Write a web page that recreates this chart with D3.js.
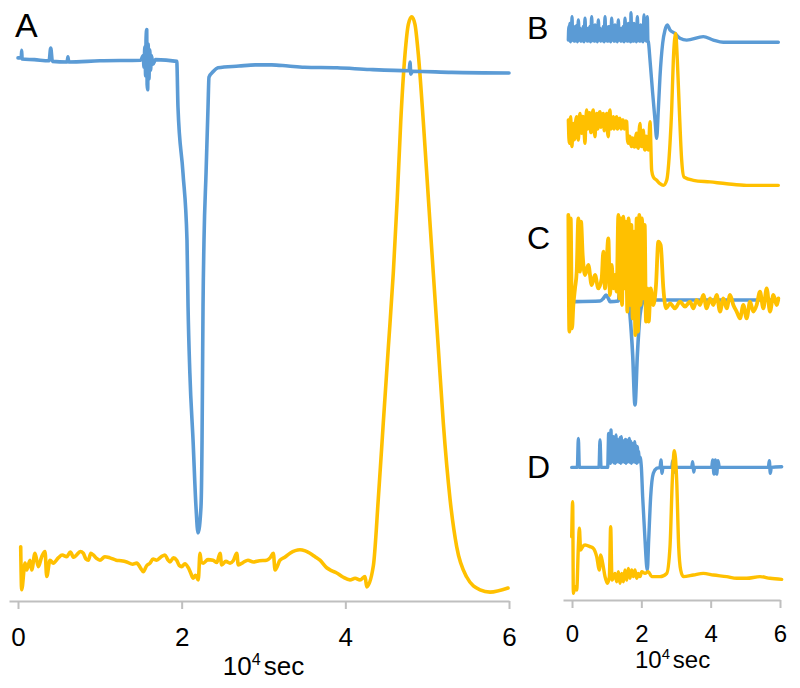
<!DOCTYPE html>
<html><head><meta charset="utf-8">
<script src="https://cdn.jsdelivr.net/npm/d3@7"></script>
<style>body{margin:0;background:#fff}svg{display:block}</style>
</head><body>
<svg id="c" width="800" height="688"></svg>
<script>
// ---- data (x in 10^4 sec, y in normalized signal units 0-100) ----
const tickValues = [0, 2, 4, 6];
const panelLabels = ["A", "B", "C", "D"];
const axisTitle = ["10", "4", "sec"];

const aBlue = [[0.00,92.6],[0.04,92.6],[0.045,93.9],[0.05,92.4],[0.20,92.3],[0.38,92.1],[0.40,94.3],[0.42,92.0],[0.60,91.9],[0.61,92.8],[0.62,91.9],[1.00,92.1],[1.50,92.2],[1.53,93.0],[1.54,91.0],[1.55,94.5],[1.56,89.5],[1.565,96.0],[1.573,97.5],[1.578,88.0],[1.585,87.1],[1.59,95.0],[1.60,89.0],[1.61,94.0],[1.62,90.5],[1.63,93.0],[1.65,91.5],[1.68,92.3],[1.94,92.0],[1.955,84.1],[2.016,72.8],[2.065,61.2],[2.078,49.7],[2.10,38.3],[2.139,26.7],[2.175,15.2],[2.20,10.7],[2.236,15.2],[2.249,26.7],[2.255,38.3],[2.261,49.7],[2.273,61.2],[2.298,72.8],[2.322,84.1],[2.334,89.3],[2.383,90.2],[2.444,90.9],[2.70,91.2],[2.90,91.4],[3.10,91.4],[3.30,91.2],[3.50,91.0],[3.90,90.9],[4.30,90.6],[4.78,90.4],[4.79,91.9],[4.80,89.8],[4.82,90.3],[5.30,90.1],[6.00,90.0]];

const aYellow = [[0.033,8.3],[0.045,0.9],[0.086,5.5],[0.106,4.3],[0.147,6.0],[0.167,4.3],[0.208,7.2],[0.248,4.9],[0.290,6.6],[0.330,7.5],[0.351,3.2],[0.391,6.0],[0.431,5.5],[0.492,6.4],[0.54,6.9],[0.595,6.6],[0.64,7.4],[0.68,6.5],[0.717,6.9],[0.76,7.5],[0.798,7.2],[0.83,6.2],[0.859,6.0],[0.89,7.2],[0.920,6.9],[0.96,6.3],[1.002,6.0],[1.06,6.6],[1.124,6.4],[1.20,6.0],[1.26,5.9],[1.328,5.7],[1.40,5.3],[1.451,5.5],[1.50,4.6],[1.531,4.0],[1.57,5.0],[1.613,5.5],[1.65,6.2],[1.695,6.0],[1.75,6.6],[1.796,6.9],[1.83,6.1],[1.857,5.7],[1.90,6.4],[1.939,6.0],[1.97,5.1],[2.000,4.9],[2.04,5.4],[2.081,4.7],[2.11,3.8],[2.142,2.9],[2.17,3.4],[2.203,2.6],[2.224,7.2],[2.24,5.6],[2.264,5.5],[2.32,6.1],[2.383,6.0],[2.43,5.6],[2.469,7.2],[2.489,5.2],[2.54,5.8],[2.591,5.5],[2.63,5.9],[2.673,7.2],[2.692,5.2],[2.75,5.6],[2.81,6.0],[2.876,5.7],[2.95,5.9],[3.039,6.0],[3.08,6.4],[3.120,7.2],[3.141,4.3],[3.202,6.0],[3.26,6.5],[3.324,7.2],[3.446,7.8],[3.51,7.6],[3.568,7.2],[3.63,6.6],[3.690,6.0],[3.772,4.7],[3.83,4.2],[3.895,3.8],[3.97,3.1],[4.057,2.6],[4.12,2.9],[4.179,2.6],[4.241,3.2],[4.261,1.4],[4.342,5.0],[4.403,16.6],[4.464,29.7],[4.525,42.6],[4.586,55.5],[4.635,68.5],[4.677,81.6],[4.729,93.2],[4.770,98.4],[4.811,99.7],[4.851,98.4],[4.892,93.2],[4.953,81.6],[5.014,68.5],[5.075,55.5],[5.136,42.6],[5.197,29.7],[5.279,16.6],[5.361,8.3],[5.483,3.1],[5.646,0.9],[5.768,0.5],[5.988,1.2]];

const bBlue = [[-0.106,84.4],[-0.09,92.0],[-0.077,86.0],[-0.06,93.7],[-0.045,83.5],[-0.03,91.0],[-0.015,84.0],[0.0,97.4],[0.02,84.4],[0.039,90.5],[0.06,83.8],[0.087,91.9],[0.11,84.0],[0.135,92.5],[0.16,83.5],[0.183,95.6],[0.21,84.4],[0.231,91.0],[0.255,83.8],[0.279,90.0],[0.30,84.0],[0.327,92.0],[0.35,83.5],[0.375,96.5],[0.40,84.4],[0.423,91.0],[0.445,83.8],[0.471,90.9],[0.495,84.0],[0.519,92.0],[0.54,83.5],[0.567,97.4],[0.59,84.1],[0.615,91.5],[0.64,83.8],[0.664,92.8],[0.69,84.0],[0.712,91.0],[0.735,83.5],[0.760,95.6],[0.785,84.4],[0.808,91.0],[0.83,83.8],[0.856,90.0],[0.88,84.0],[0.904,92.0],[0.93,83.5],[0.952,97.4],[0.975,84.1],[1.000,91.0],[1.025,83.8],[1.048,91.9],[1.07,84.0],[1.096,92.0],[1.12,83.5],[1.144,96.5],[1.17,84.4],[1.192,91.0],[1.215,83.8],[1.240,92.8],[1.265,84.0],[1.288,91.0],[1.31,83.5],[1.337,95.6],[1.36,84.4],[1.385,91.0],[1.41,83.8],[1.433,90.9],[1.455,84.0],[1.481,92.0],[1.505,83.5],[1.529,96.5],[1.555,84.1],[1.577,91.0],[1.60,83.8],[1.625,93.7],[1.65,84.0],[1.673,91.0],[1.690,83.5],[1.702,99.6],[1.72,84.4],[1.740,91.0],[1.765,83.8],[1.788,93.7],[1.81,84.0],[1.837,91.0],[1.86,83.5],[1.885,97.4],[1.91,84.1],[1.933,91.0],[1.955,83.8],[1.981,92.8],[2.005,84.0],[2.029,91.0],[2.05,83.5],[2.077,98.3],[2.10,84.4],[2.125,91.0],[2.15,83.8],[2.173,97.4],[2.19,84.0],[2.202,83.5],[2.250,73.3],[2.327,54.8],[2.394,40.0],[2.442,29.8],[2.490,45.6],[2.538,64.1],[2.615,82.6],[2.683,90.0],[2.750,92.8],[2.827,90.0],[2.971,88.1],[3.115,85.4],[3.308,84.4],[3.788,86.3],[4.077,84.4],[4.365,83.2],[5.038,83.2],[5.952,83.2]];

const bYellow = [[-0.106,40.0],[-0.09,30.0],[-0.077,27.0],[-0.06,39.0],[-0.038,41.9],[-0.02,30.0],[0.0,25.2],[0.02,36.0],[0.039,38.1],[0.06,29.0],[0.087,30.7],[0.11,40.0],[0.135,41.9],[0.16,33.0],[0.183,28.9],[0.21,40.0],[0.231,43.7],[0.255,34.0],[0.279,32.6],[0.30,42.0],[0.327,41.9],[0.35,33.0],[0.375,27.0],[0.40,40.0],[0.423,45.6],[0.445,35.0],[0.471,36.3],[0.495,44.0],[0.519,43.7],[0.54,33.0],[0.567,34.4],[0.59,44.0],[0.615,45.6],[0.64,34.0],[0.664,30.7],[0.69,42.0],[0.712,43.7],[0.735,35.0],[0.760,36.3],[0.785,44.0],[0.808,44.6],[0.83,36.0],[0.856,38.1],[0.88,43.0],[0.904,43.7],[0.93,34.0],[0.952,36.3],[0.975,42.0],[1.000,43.7],[1.025,33.0],[1.048,30.7],[1.07,43.0],[1.096,45.6],[1.12,35.0],[1.144,36.3],[1.17,41.0],[1.192,41.9],[1.215,35.0],[1.240,37.2],[1.265,41.0],[1.288,41.9],[1.31,35.0],[1.337,36.3],[1.36,40.5],[1.385,41.0],[1.41,35.0],[1.433,35.4],[1.455,40.0],[1.481,40.0],[1.505,35.0],[1.529,36.3],[1.555,39.5],[1.577,39.1],[1.60,29.0],[1.625,27.0],[1.65,31.0],[1.673,30.7],[1.70,26.0],[1.721,25.2],[1.745,30.0],[1.769,28.9],[1.79,25.0],[1.817,25.2],[1.84,31.0],[1.865,32.6],[1.89,25.0],[1.913,24.3],[1.94,35.0],[1.962,38.1],[1.985,26.0],[2.010,25.2],[2.035,33.0],[2.058,34.4],[2.08,25.0],[2.106,23.3],[2.13,31.0],[2.154,30.7],[2.18,24.0],[2.202,23.3],[2.250,39.1],[2.298,12.0],[2.346,8.3],[2.442,6.5],[2.538,4.6],[2.635,3.7],[2.731,6.5],[2.827,27.0],[2.875,45.6],[2.923,73.3],[2.990,88.1],[3.038,73.3],[3.096,45.6],[3.163,17.8],[3.231,8.3],[3.500,6.5],[3.981,5.6],[4.462,4.6],[5.038,3.7],[5.952,3.7]];

const cBlue = [[0.087,53.2],[0.808,53.5],[0.904,54.8],[0.981,56.5],[1.048,54.8],[1.096,53.2],[1.337,53.5],[1.385,61.5],[1.433,63.2],[1.529,64.0],[1.577,59.8],[1.673,46.5],[1.750,26.5],[1.817,1.5],[1.885,26.5],[1.962,46.5],[2.058,53.2],[2.154,54.0],[5.952,54.0]];

const cYellow = [[-0.106,96.5],[-0.077,38.2],[-0.038,94.8],[0.0,39.8],[0.039,51.5],[0.087,59.8],[0.135,68.2],[0.183,94.8],[0.231,68.2],[0.260,93.2],[0.308,76.5],[0.375,66.5],[0.471,71.5],[0.567,61.5],[0.664,66.5],[0.760,59.8],[0.856,64.8],[0.904,78.2],[0.952,59.8],[1.048,84.8],[1.096,56.5],[1.144,71.5],[1.192,59.8],[1.240,66.5],[1.288,58.2],[1.337,96.5],[1.365,54.8],[1.404,94.8],[1.442,51.5],[1.481,95.7],[1.519,59.8],[1.558,93.2],[1.596,48.2],[1.635,94.8],[1.673,51.5],[1.712,91.5],[1.750,44.8],[1.788,88.2],[1.827,36.5],[1.865,94.8],[1.904,38.2],[1.942,96.5],[1.981,51.5],[2.019,94.8],[2.058,54.8],[2.096,91.5],[2.135,43.2],[2.173,59.8],[2.212,43.2],[2.269,59.8],[2.346,51.5],[2.423,61.5],[2.490,83.2],[2.558,81.5],[2.635,59.8],[2.712,49.8],[2.827,52.3],[2.971,49.8],[3.115,53.2],[3.260,50.7],[3.404,53.2],[3.500,49.8],[3.596,54.0],[3.692,51.5],[3.788,56.5],[3.885,49.8],[3.981,54.8],[4.077,51.5],[4.173,56.5],[4.269,48.2],[4.365,54.8],[4.462,49.8],[4.558,56.5],[4.654,51.5],[4.750,48.2],[4.846,44.8],[4.942,51.5],[5.038,44.8],[5.135,53.2],[5.231,48.2],[5.327,51.5],[5.423,58.2],[5.519,49.8],[5.615,59.8],[5.712,48.2],[5.808,56.5],[5.904,51.5],[5.952,54.8]];

const dBlue = [[-0.009,72.0],[0.154,72.0],[0.183,88.1],[0.212,72.0],[0.779,72.0],[0.808,87.2],[0.837,72.0],[1.029,72.0],[1.058,90.9],[1.075,75.0],[1.096,88.0],[1.11,74.3],[1.125,92.8],[1.14,75.0],[1.154,88.0],[1.17,75.2],[1.192,89.1],[1.21,74.5],[1.231,88.0],[1.25,74.3],[1.269,90.0],[1.29,75.0],[1.308,87.5],[1.325,75.2],[1.346,87.2],[1.365,74.8],[1.385,88.5],[1.405,74.3],[1.423,89.1],[1.44,75.0],[1.462,87.0],[1.48,75.2],[1.500,86.3],[1.52,74.8],[1.538,87.5],[1.555,74.3],[1.577,87.2],[1.595,75.0],[1.615,86.0],[1.635,75.2],[1.654,88.1],[1.675,74.8],[1.692,86.5],[1.71,74.3],[1.731,85.4],[1.75,75.0],[1.769,85.0],[1.79,75.2],[1.808,86.3],[1.825,74.8],[1.846,84.0],[1.865,74.3],[1.885,83.5],[1.905,75.0],[1.923,81.0],[1.94,75.2],[1.962,77.6],[2.000,72.4],[2.038,55.7],[2.106,31.7],[2.154,16.9],[2.173,15.0],[2.212,31.7],[2.269,55.7],[2.346,68.7],[2.442,71.5],[2.538,72.0],[2.567,76.1],[2.596,68.7],[2.625,72.0],[2.875,72.0],[2.904,75.7],[2.933,69.1],[2.962,72.0],[3.452,72.0],[3.481,75.2],[3.510,69.4],[3.538,72.0],[4.029,72.0],[4.058,76.1],[4.096,68.3],[4.135,76.1],[4.173,68.3],[4.212,75.7],[4.250,72.0],[5.663,72.0],[5.692,75.7],[5.721,68.7],[5.750,72.0],[6.048,72.4]];

const dYellow = [[-0.009,33.5],[0.019,53.0],[0.039,2.0],[0.087,5.7],[0.135,3.9],[0.183,28.0],[0.212,38.2],[0.250,26.1],[0.308,28.0],[0.375,28.9],[0.519,28.0],[0.615,27.0],[0.712,22.4],[0.789,15.0],[0.827,23.3],[0.885,18.7],[0.952,11.3],[1.019,7.6],[1.077,11.3],[1.115,39.1],[1.154,9.4],[1.240,13.1],[1.288,8.5],[1.337,14.0],[1.385,7.6],[1.433,13.1],[1.481,8.5],[1.529,15.0],[1.577,9.4],[1.625,15.9],[1.673,10.4],[1.721,15.0],[1.769,11.3],[1.817,15.0],[1.865,10.4],[1.913,13.1],[1.962,11.3],[2.010,14.1],[2.106,13.1],[2.202,14.1],[2.298,11.3],[2.538,11.3],[2.731,13.1],[2.827,28.0],[2.894,65.0],[2.952,81.3],[3.019,65.0],[3.077,28.0],[3.135,15.0],[3.212,11.3],[3.500,12.2],[3.788,13.1],[4.077,12.2],[4.462,11.3],[4.750,10.4],[5.038,10.4],[5.423,11.3],[5.712,10.4],[6.048,9.8]];

// ---- layout ----
const BLUE = "#5B9BD5", YELLOW = "#FFC000", AXIS = "#BFBFBF";
const FONT = "'Liberation Sans', Arial, sans-serif";
const svg = d3.select("#c");

const xA = d3.scaleLinear().domain([-0.11, 6]).range([9, 509]);
const xR = d3.scaleLinear().domain([-0.26, 6]).range([563, 780]);
const yA = d3.scaleLinear().domain([0, 100]).range([595, 15]);
const yB = d3.scaleLinear().domain([0, 100]).range([192, 12]);
const yC = d3.scaleLinear().domain([0, 100]).range([408, 208]);
const yD = d3.scaleLinear().domain([0, 100]).range([597, 417]);

function drawLine(data, x, y, color, w) {
  const line = d3.line().curve(d3.curveMonotoneX).x(d => x(d[0])).y(d => y(d[1]));
  svg.append("path").datum(data).attr("d", line)
    .attr("fill", "none").attr("stroke", color).attr("stroke-width", w)
    .attr("stroke-linejoin", "round").attr("stroke-linecap", "round");
}

function drawAxis(x, yPos, fs, padding, titleX, titleY) {
  const g = svg.append("g").attr("transform", `translate(0,${yPos})`)
    .call(d3.axisBottom(x).tickValues(tickValues).tickSize(8).tickSizeOuter(0).tickPadding(padding).tickFormat(d3.format("d")));
  g.select(".domain").attr("stroke", AXIS).attr("stroke-width", 2);
  g.selectAll(".tick line").attr("stroke", AXIS).attr("stroke-width", 2);
  g.selectAll(".tick text").attr("fill", "#000").attr("font-size", fs).attr("font-family", FONT);
  const t = svg.append("text").attr("x", titleX).attr("y", titleY)
    .attr("text-anchor", "middle").attr("font-family", FONT).attr("font-size", fs).attr("fill", "#000");
  t.append("tspan").text(axisTitle[0]);
  t.append("tspan").attr("font-size", fs * 0.62).attr("dy", -fs * 0.38).text(axisTitle[1]);
  t.append("tspan").attr("dy", fs * 0.38).attr("dx", fs * 0.12).text(axisTitle[2]);
}

// panel A
drawLine(aYellow, xA, yA, YELLOW, 3.6);
drawLine(aBlue, xA, yA, BLUE, 3.6);
drawAxis(xA, 601, 26, 19, xA(3), 675);

// panel B
drawLine(bBlue, xR, yB, BLUE, 3.4);
drawLine(bYellow, xR, yB, YELLOW, 3.4);
// panel C
drawLine(cBlue, xR, yC, BLUE, 3.6);
drawLine(cYellow, xR, yC, YELLOW, 3.8);
// panel D
drawLine(dBlue, xR, yD, BLUE, 3.4);
drawLine(dYellow, xR, yD, YELLOW, 3.4);
drawAxis(xR, 600, 24, 17, xR(2.9), 668);

// panel letters
const letterPos = [[15, 37, 34], [527, 39, 32], [527, 249, 32], [527, 478, 32]];
panelLabels.forEach((l, i) => {
  svg.append("text").attr("x", letterPos[i][0]).attr("y", letterPos[i][1])
    .attr("font-family", FONT).attr("font-size", letterPos[i][2]).attr("fill", "#000").text(l);
});
</script>
</body></html>
